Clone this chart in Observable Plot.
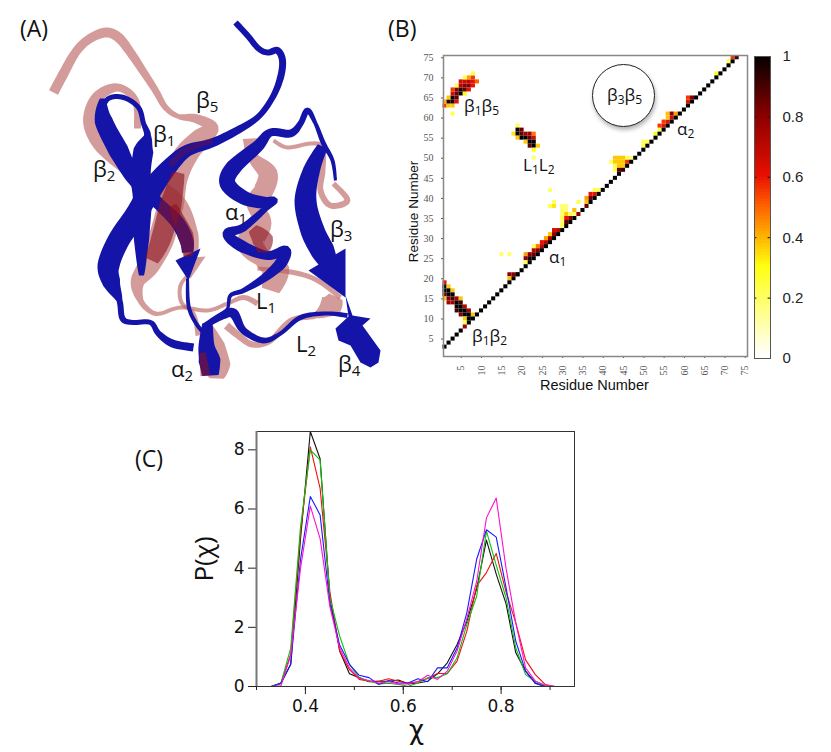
<!DOCTYPE html>
<html>
<head>
<meta charset="utf-8">
<script src="https://cdn.jsdelivr.net/npm/d3@7"></script>
<script src="https://cdn.jsdelivr.net/npm/@observablehq/plot@0.6"></script>
<style>
  html, body { margin: 0; padding: 0; background: #fff; }
  #page { position: relative; width: 831px; height: 752px; overflow: hidden; font-family: "Open Sans", sans-serif; color: #111; }
  #page svg { position: absolute; background: transparent; overflow: visible; }
  .lab { position: absolute; font-size: 22px; line-height: 20px; white-space: nowrap; }
  .lab sub { font-size: 15px; line-height: 0; vertical-align: -4px; }
  .panel { position: absolute; font-size: 23px; line-height: 24px; }
  #circle { position: absolute; left: 592px; top: 64px; width: 61px; height: 61px; border: 1px solid #222; border-radius: 50%; background: #fff; box-shadow: 1px 3px 4px rgba(0,0,0,.3); }
  .axt { position: absolute; white-space: nowrap; }
</style>
</head>
<body>
<div id="page"></div>
<script>
// --- panel C: P(chi), one value per 0.02 bin ---
const chi = [0.31,0.33,0.35,0.37,0.39,0.41,0.43,0.45,0.47,0.49,0.51,0.53,0.55,0.57,0.59,0.61,0.63,0.65,0.67,0.69,0.71,0.73,0.75,0.77,0.79,0.81,0.83,0.85,0.87,0.89,0.91,0.93,0.95];
const pBlack = [0,0,0.1,0.75,5.0,8.62,7.7,3.0,1.2,0.43,0.3,0.16,0.18,0.18,0.22,0.09,0.12,0.18,0.43,0.8,1.42,2.2,3.3,4.95,3.8,2.8,1.14,0.52,0.12,0,0,0,0];
const pRed = [0,0,0.1,1.1,5.2,8.1,6.7,3.2,1.2,0.57,0.24,0.18,0.18,0.26,0.18,0.12,0.16,0.27,0.44,0.44,0.86,1.87,3.4,3.85,4.5,3.2,2.15,0.9,0.4,0.07,0,0,0];
const pGreen = [0,0,0.12,1.3,5.4,8.0,7.65,3.0,1.7,0.75,0.3,0.18,0.09,0.11,0.07,0.01,0.12,0.3,0.3,0.43,0.97,2.1,3.05,5.25,4.1,3.0,1.3,0.4,0.18,0.02,0,0,0];
const pBlue = [0,0,0.12,0.75,4.3,6.42,5.8,2.8,1.4,0.75,0.38,0.3,0.07,0.2,0.12,0.12,0.26,0.16,0.63,0.63,1.3,2.5,4.3,5.3,5.05,3.35,1.53,0.52,0.1,0,0,0,0];
const pMagenta = [0,0,0.02,1.05,4.0,6.1,5.0,2.7,1.3,0.63,0.27,0.2,0.12,0.16,0.09,0.09,0.16,0.38,0.24,0.52,1.2,2.3,3.55,5.7,6.37,4.0,2.15,0.63,0.18,0.05,0,0,0];
const chiTicks = [0.3,0.4,0.5,0.6,0.7,0.8,0.9];
const chiLabels = [0.4,0.6,0.8];
const pTicks = [0,2,4,6,8];
const chiSeries = [["#111111",pBlack],["#f01010",pRed],["#10c010",pGreen],["#1a1aff",pBlue],["#ff10d0",pMagenta]];

// --- panel B: contact probability, [residue, residue, p] ---
const axisResidues = [5,10,15,20,25,30,35,40,45,50,55,60,65,70,75];
const diagonal = [1,2,3,4,5,7,8,9,10,11,12,13,14,15,16,17,18,19,20,21,22,23,24,25,26,27,28,29,30,31,32,33,35,37,38,39,40,41,42,43,44,46,47,48,49,50,51,52,53,54,55,56,57,58,59,60,61,62,63,64,65,66,67,68,69,70,71,72];
const weakDiagonal = [[6,8,0.75],[34,36,0.8],[36,38,0.85],[45,47,0.92],[73,75,0.9]];
const beta1beta5 = [[1,63,0.55],[2,63,0.37],[3,63,0.37],[1,64,0.4],[2,64,0.95],[3,64,0.95],[4,64,0.6],[2,65,0.37],[3,65,1],[4,65,0.85],[3,66,0.65],[4,66,0.85],[5,66,1],[6,66,0.3],[3,67,0.55],[4,67,0.8],[5,67,0.95],[6,67,0.85],[7,67,0.6],[4,68,0.22],[5,68,0.7],[6,68,0.8],[7,68,0.8],[8,68,0.6],[5,69,0.65],[6,69,0.65],[7,69,0.7],[8,69,0.6],[9,69,0.5],[6,70,0.22],[7,70,0.42],[8,70,0.55],[8,71,0.22],[3,61,0.22]];
const l1l2 = [[19,58,0.22],[19,57,0.97],[20,57,0.85],[18,56,0.33],[19,56,1],[20,56,0.85],[21,56,0.75],[22,56,0.75],[23,56,0.47],[19,55,0.37],[20,55,1],[21,55,1],[22,55,0.85],[23,55,0.65],[21,54,0.37],[22,54,1],[23,54,1],[22,53,0.85],[23,53,1],[24,53,0.37],[23,52,0.3],[23,50,0.18]];
const beta1beta2 = [[1,19,0.6],[1,18,1],[2,18,0.37],[1,17,1],[2,17,1],[3,17,0.37],[1,16,0.85],[2,16,1],[3,16,1],[1,15,0.37],[2,15,0.8],[3,15,0.9],[4,15,0.75],[5,15,0.37],[2,14,0.75],[3,14,0.75],[4,14,1],[5,14,0.9],[4,13,1],[5,13,1],[6,13,0.7],[4,12,0.9],[5,12,1],[6,12,1],[7,12,0.75],[5,11,0.8],[6,11,1],[7,11,1],[8,11,0.37],[6,10,0.37],[7,10,1],[6,9,0.22]];
const alpha1 = [[17,21,0.8],[18,21,0.8],[19,21,0.8],[17,20,0.38],[15,26,0.18],[17,26,0.18],[21,26,0.42],[22,26,0.8],[23,26,0.85],[21,25,0.8],[22,25,0.95],[21,24,0.22],[23,27,0.7],[24,27,0.8],[23,28,0.22],[24,28,0.47],[25,28,0.7],[25,29,0.6],[26,29,0.7],[26,30,0.42],[27,30,0.75],[27,31,0.37],[28,31,0.8],[28,32,0.65],[29,32,0.7],[30,33,0.22]];
const turn30s = [[27,42,0.18],[28,39,0.18],[27,38,0.22],[28,38,0.33],[34,39,0.22],[30,38,0.18],[31,38,0.18],[30,37,0.18],[31,37,0.18],[33,37,0.38],[30,36,0.18],[31,36,0.37],[32,36,0.22],[33,36,0.18],[30,35,0.22],[31,35,0.6],[32,35,0.8],[30,34,0.18],[31,34,0.85],[36,39,0.38],[36,40,0.42],[37,40,0.85],[37,41,0.6],[38,41,0.6],[38,42,0.22],[39,42,0.22]];
const loop45 = [[43,50,0.37],[44,50,0.37],[45,50,0.37],[46,50,0.22],[47,50,0.18],[42,49,0.18],[43,49,0.37],[44,49,0.37],[45,49,0.37],[46,49,0.55],[43,48,0.22],[44,48,0.37],[45,48,0.37],[43,47,0.22],[44,47,0.85],[50,53,0.22],[50,54,0.22],[51,54,0.22]];
const alpha2 = [[53,56,0.3],[54,57,0.22],[54,58,0.55],[55,58,0.6],[55,59,0.55],[56,59,0.6],[56,60,0.37],[57,60,0.65],[56,61,0.38],[57,61,0.8],[58,61,0.42],[61,64,0.6],[61,65,0.55],[62,65,0.8],[68,71,0.3],[71,74,0.22],[72,75,0.55]];

// colour stops of the probability bar
const heatDomain = [0,0.1,0.2,0.3,0.4,0.5,0.6,0.8,1];
const heatRange = ["#ffffff","#ffffb0","#ffff60","#ffff10","#ffb000","#ff6000","#e81000","#8a0000","#000000"];
const barLevels = d3.range(0,1,0.01);
const barTicks = [0,0.2,0.4,0.6,0.8,1];

// --- panel A: ribbon centre lines as [x, y, width] ---
const pinkN = [[53,92,10],[62,75,10],[75,52,9],[88,39,9],[105,32,10],[118,37,10],[130,52,9],[142,70,8],[155,90,7],[165,107,6],[178,116,5],[195,118,9],[212,127,12],[200,138,20],[185,155,24],[175,178,24],[170,205,26],[160,240,26],[148,265,22],[137,282,14],[140,300,6],[150,311,5],[160,313,4],[180,307,4],[207,310,4],[227,303,4],[243,297,5],[257,303,6]];
const pinkB2 = [[137,128,7],[135,100,7],[117,87,8],[97,97,12],[90,120,15],[100,143,16],[125,165,16],[155,185,16],[178,205,18],[188,235,20],[190,256,14]];
const pinkStem = [[190,272,3],[180,285,4],[181,302,4],[193,313,4],[198,335,6]];
const pinkH2 = [[207,325,8],[212,345,24],[216,365,28],[216,378,14]];
const pinkL2 = [[226,325,8],[238,335,7],[252,344,6],[270,340,6],[290,320,5],[315,315,6],[330,305,24],[335,296,14]];
const pinkL1 = [[257,268,4],[293,272,5],[317,280,5],[340,297,5]];
const pinkH1 = [[250,138,16],[252,156,10],[267,173,20],[263,190,20],[253,202,14],[262,222,18],[250,242,28],[262,258,18],[275,270,28],[270,290,18]];
const pinkRight = [[273,140,4],[287,147,4],[310,143,4],[322,147,5],[322,170,6],[320,190,6],[330,205,6],[347,200,6],[333,183,5]];
const blueC = [[235,22,6],[247,35,6],[258,48,6],[267,52,6],[277,50,7],[282,60,7],[280,77,7],[272,97,6],[257,117,6],[233,132,8],[210,143,9],[187,150,12],[170,165,16],[150,190,22],[135,215,22],[118,240,22],[108,265,22],[111,282,18],[119,300,6],[122,318,6],[132,322,5],[150,322,5],[158,333,6],[172,343,8],[193,347,8]];
const blueB1 = [[100,112,4],[108,98,5],[123,97,5],[138,107,5],[143,123,5],[147,135,7],[143,150,20],[140,175,20],[142,200,19],[141,240,15],[141,275,5]];
const blueB2 = [[102,98,5],[103,120,18],[118,150,20],[135,180,14],[160,205,12],[177,222,14],[186,240,14],[187,252,11]];
const blueStem = [[187,278,3],[188,305,4],[195,322,4],[206,336,4]];
const blueH2 = [[207,323,10],[206,345,16],[209,360,22],[210,375,16]];
const blueL2 = [[203,326,5],[222,315,8],[233,313,10],[243,330,7],[263,340,6],[280,333,4],[300,317,5],[325,313,4],[347,315,5]];
const blueH1 = [[335,180,3],[332,160,4],[323,143,5],[315,123,4],[307,110,6],[300,123,6],[290,133,8],[270,132,8],[257,146,12],[233,167,16],[227,183,16],[243,197,14],[263,202,12],[274,200,7],[265,208,6],[243,227,8],[227,233,10],[240,245,12],[267,255,9],[285,250,10],[280,263,12],[263,278,8],[243,290,5],[230,295,4],[227,308,3],[218,316,4]];
const blueB3 = [[322,146,10],[311,170,17],[305,200,22],[312,230,24],[322,250,24],[328,262,18]];
// arrow heads and the short beta4 strand are outlines, not centre lines
const headB3 = [[308,270],[345,248],[345,297]];
const headB2 = [[175,260],[200,248],[188,280]];
const headPinkB2 = [[178,258],[205,256],[190,278]];
const strandB4 = [[345,295],[352,315],[370,318],[362,325],[380,350],[378,362],[370,367],[360,362],[350,345],[338,340],[335,328],[348,316]];
// darker places where the pink chain lies in front of the blue one
const shadeC = [[178,172,12],[170,205,22],[160,240,20],[151,260,14]];
const shadeB2 = [[172,205,8],[185,235,16],[188,256,8]];
const shadeH2 = [[202,352,6],[205,375,10]];
const shadeH1 = [[252,228,10],[262,240,22],[262,252,10]];
const shadeBlueC = [[212,140,5],[185,150,7],[170,165,6]];

// smooth a centre line and give back its outline, so that Plot draws a filled ribbon
function ribbon(points) {
  const dense = [];
  for (let i = 0; i < points.length - 1; i++) {
    const p0 = points[Math.max(i - 1, 0)], p1 = points[i], p2 = points[i + 1], p3 = points[Math.min(i + 2, points.length - 1)];
    for (let k = 0; k < 8; k++) {
      const t = k / 8;
      const f = j => 0.5 * (2 * p1[j] + (p2[j] - p0[j]) * t + (2 * p0[j] - 5 * p1[j] + 4 * p2[j] - p3[j]) * t * t + (3 * p1[j] - p0[j] - 3 * p2[j] + p3[j]) * t * t * t);
      dense.push([f(0), f(1), p1[2] + (p2[2] - p1[2]) * t]);
    }
  }
  dense.push(points[points.length - 1]);
  const left = [], right = [];
  dense.forEach((p, i) => {
    const a = dense[Math.max(i - 1, 0)], b = dense[Math.min(i + 1, dense.length - 1)];
    const dx = b[0] - a[0], dy = b[1] - a[1], n = Math.hypot(dx, dy) || 1;
    left.push([p[0] - dy / n * p[2] / 2, p[1] + dx / n * p[2] / 2]);
    right.push([p[0] + dy / n * p[2] / 2, p[1] - dx / n * p[2] / 2]);
  });
  return left.concat(right.reverse());
}

const shape = (outline, fill, opacity) => Plot.line(outline, {x: d => d[0], y: d => d[1], fill, fillOpacity: opacity, stroke: "none", curve: "linear-closed"});

const page = document.getElementById("page");
function place(svg, left, top) {
  svg.style.left = left + "px";
  svg.style.top = top + "px";
  page.appendChild(svg);
}

const proteinPlot = Plot.plot({
  width: 420, height: 420, margin: 0,
  x: {domain: [0, 420], axis: null},
  y: {domain: [420, 0], axis: null},
  marks: [
    ...[pinkN, pinkB2, pinkStem, pinkH2, pinkL2, pinkL1, pinkH1, pinkRight].map(p => shape(ribbon(p), "#b8605c", 0.62)),
    shape(headPinkB2, "#b8605c", 0.62),
    ...[blueB1, blueB2, blueStem, blueC, blueL2, blueH2, blueH1, blueB3].map(p => shape(ribbon(p), "#1414a8", 1)),
    shape(headB3, "#1414a8", 1),
    shape(headB2, "#1414a8", 1),
    shape(strandB4, "#1414a8", 1),
    ...[shadeC, shadeB2, shadeH2, shadeH1].map(p => shape(ribbon(p), "#8a1020", 0.6)),
    shape(ribbon(shadeBlueC), "#60104a", 0.5)
  ]
});
place(proteinPlot, 0, 0);

const heatCells = [beta1beta5, l1l2, beta1beta2, alpha1, turn30s, loop45, alpha2, weakDiagonal].flat()
  .concat(diagonal.map(i => [i, i + 2, 1]))
  .map(([a, b, p]) => ({a, b, p}));

const contactPlot = Plot.plot({
  width: 330, height: 330,
  marginLeft: 25, marginRight: 1, marginTop: 1, marginBottom: 28,
  style: {fontFamily: "'Liberation Serif', serif", fontSize: "10px", color: "#555"},
  x: {domain: [0.63, 75.55], ticks: axisResidues, tickSize: 2, tickRotate: -90, label: null, tickPadding: 7},
  y: {domain: [0.66, 75.57], ticks: axisResidues, tickSize: 2, label: null, tickPadding: 8},
  color: {type: "linear", domain: heatDomain, range: heatRange, interpolate: "rgb"},
  marks: [
    Plot.rect(heatCells, {x1: d => d.a - 0.5, x2: d => d.a + 0.5, y1: d => d.b - 0.5, y2: d => d.b + 0.5, fill: "p"}),
    Plot.frame({stroke: "#888", strokeWidth: 1.5})
  ]
});
place(contactPlot, 418, 54);

const barPlot = Plot.plot({
  width: 60, height: 306,
  marginLeft: 1, marginRight: 43, marginTop: 2, marginBottom: 2,
  style: {fontFamily: "'Liberation Sans', sans-serif", fontSize: "15px", color: "#222"},
  x: {domain: [0, 1], axis: null},
  y: {domain: [0, 1], ticks: barTicks, tickSize: 0, label: null, axis: "right", tickPadding: 12, tickFormat: d => String(d)},
  color: {type: "linear", domain: heatDomain, range: heatRange, interpolate: "rgb"},
  marks: [
    Plot.rect(barLevels, {x1: 0, x2: 1, y1: d => d, y2: d => Math.min(d + 0.02, 1), fill: d => d}),
    Plot.ruleY(barTicks.slice(1, -1), {x1: 0, x2: 0.15, stroke: "#111", strokeWidth: 1}),
    Plot.ruleY(barTicks.slice(1, -1), {x1: 0.85, x2: 1, stroke: "#111", strokeWidth: 1}),
    Plot.frame({stroke: "#555", strokeWidth: 1})
  ]
});
place(barPlot, 753, 54);

const chiPlot = Plot.plot({
  width: 360, height: 290,
  marginLeft: 40, marginRight: 2, marginTop: 1, marginBottom: 34,
  style: {fontFamily: "'DejaVu Sans', sans-serif", fontSize: "17px", color: "#111"},
  x: {domain: [0.3, 0.95], axis: null},
  y: {domain: [0, 8.62], axis: null},
  marks: [
    Plot.axisY(pTicks, {tickSize: 8, tickPadding: 4, label: null, stroke: "#222"}),
    Plot.axisX(chiLabels, {tickSize: 8, tickPadding: 5, label: null, tickFormat: d3.format(".1f"), stroke: "#222"}),
    Plot.axisX(chiTicks, {tickSize: 4, tickFormat: null, label: null, text: null, stroke: "#222"}),
    ...chiSeries.map(([color, values]) => Plot.lineY(values, {x: (d, i) => chi[i], y: d => d, stroke: color, strokeWidth: 1.1})),
    Plot.frame({stroke: "#333", strokeWidth: 1}),
    Plot.ruleX([0.3], {stroke: "#777", strokeWidth: 2})
  ]
});
place(chiPlot, 216, 430);

// text that sits beside the marks: labels with subscripts, panel letters, axis titles
const labels = [
  ["β", "2", 93, 158], ["β", "1", 153, 123], ["β", "5", 196, 89], ["α", "1", 225, 201], ["β", "3", 330, 218],
  ["L", "1", 256, 290], ["L", "2", 296, 333], ["α", "2", 171, 358], ["β", "4", 338, 353]
];
labels.forEach(([g, s, left, top]) => {
  const el = document.createElement("div");
  el.className = "lab";
  el.style.left = left + "px";
  el.style.top = top + "px";
  el.innerHTML = g + "<sub>" + s + "</sub>";
  page.appendChild(el);
});
const smallLabels = [
  ["β<sub>1</sub>β<sub>5</sub>", 464, 96], ["L<sub>1</sub>L<sub>2</sub>", 523, 155], ["α<sub>1</sub>", 549, 247],
  ["β<sub>1</sub>β<sub>2</sub>", 472, 326], ["α<sub>2</sub>", 677, 119]
];
smallLabels.forEach(([html, left, top]) => {
  const el = document.createElement("div");
  el.className = "lab";
  el.style.cssText = `left:${left}px;top:${top}px;font-size:17px;`;
  el.innerHTML = html.replace(/<sub>/g, '<sub style="font-size:12px;vertical-align:-3px">');
  page.appendChild(el);
});
const circle = document.createElement("div");
circle.id = "circle";
page.appendChild(circle);
const circleLabel = document.createElement("div");
circleLabel.className = "lab";
circleLabel.style.cssText = "left:607px;top:85px;font-size:17px;";
circleLabel.innerHTML = 'β<sub style="font-size:12px;vertical-align:-3px">3</sub>β<sub style="font-size:12px;vertical-align:-3px">5</sub>';
page.appendChild(circleLabel);

[["(A)", 20, 16], ["(B)", 388, 16], ["(C)", 135, 446]].forEach(([t, left, top]) => {
  const el = document.createElement("div");
  el.className = "panel";
  el.style.left = left + "px";
  el.style.top = top + "px";
  el.textContent = t;
  page.appendChild(el);
});
[
  ["Residue Number", "left:363px;top:204px;font:13.5px 'Liberation Sans',sans-serif;transform:rotate(-90deg);"],
  ["Residue Number", "left:540px;top:377px;font:14.5px 'Liberation Sans',sans-serif;"],
  ["χ", "left:409px;top:715px;font:26px 'DejaVu Sans',sans-serif;"],
  ["P(χ)", "left:180px;top:541px;font:26px 'Open Sans',sans-serif;transform:rotate(-90deg);"]
].forEach(([t, css]) => {
  const el = document.createElement("div");
  el.className = "axt";
  el.style.cssText = css;
  el.textContent = t;
  page.appendChild(el);
});
</script>
</body>
</html>
